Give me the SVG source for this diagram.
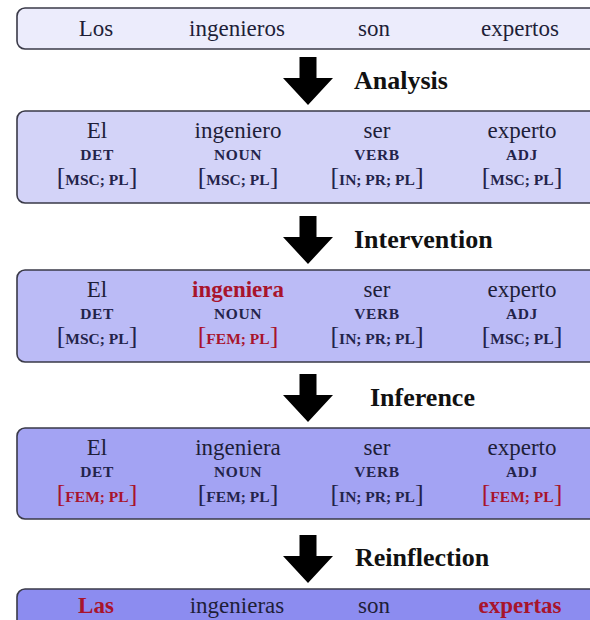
<svg xmlns="http://www.w3.org/2000/svg" width="590" height="620" viewBox="0 0 590 620">
<style>
.box{stroke:#3a3a48;stroke-width:1.6}
.w{font-family:"Liberation Serif","Times New Roman",serif;font-size:23px;fill:#1e1e38;text-anchor:middle}
.t{font-family:"Liberation Serif","Times New Roman",serif;font-size:15.5px;font-weight:bold;fill:#23234a;text-anchor:middle;letter-spacing:0.6px}
.f{font-family:"Liberation Serif","Times New Roman",serif;font-size:15.5px;font-weight:bold;fill:#23234a;text-anchor:middle}
.br{font-size:26px;font-weight:normal}
.red{fill:#a8142c}
.b{font-weight:bold}
.lbl{font-family:"Liberation Serif","Times New Roman",serif;font-size:26px;font-weight:bold;fill:#111}
.arr{fill:#000}
</style>
<defs>
<path id="arrow" d="M-8.5,0 H8.5 V21 H25 L0,48 L-25,21 H-8.5 Z"/>
</defs>
<g id="connectors">
<use href="#arrow" class="arr" x="308" y="57"/>
<use href="#arrow" class="arr" x="308" y="216"/>
<use href="#arrow" class="arr" x="308" y="374"/>
<use href="#arrow" class="arr" x="308" y="535"/>
<text class="lbl" x="354" y="89">Analysis</text>
<text class="lbl" x="354" y="248">Intervention</text>
<text class="lbl" x="370" y="406">Inference</text>
<text class="lbl" x="355" y="566">Reinflection</text>
</g>
<g id="input">
<rect class="box" x="17" y="8" width="600" height="41" rx="8" fill="#ececfc"/>
<text class="w" x="96" y="36">Los</text>
<text class="w" x="237" y="36">ingenieros</text>
<text class="w" x="374" y="36">son</text>
<text class="w" x="520" y="36">expertos</text>
</g>
<g id="analysis">
<rect class="box" x="17" y="111" width="600" height="92" rx="8" fill="#d3d3f8"/>
<text class="w" x="97" y="138">El</text>
<text class="w" x="238" y="138">ingeniero</text>
<text class="w" x="377" y="138">ser</text>
<text class="w" x="522" y="138">experto</text>
<text class="t" x="97" y="160">DET</text>
<text class="t" x="238" y="160">NOUN</text>
<text class="t" x="377" y="160">VERB</text>
<text class="t" x="522" y="160">ADJ</text>
<text class="f" x="97" y="185"><tspan class="br">[</tspan>MSC; PL<tspan class="br">]</tspan></text>
<text class="f" x="238" y="185"><tspan class="br">[</tspan>MSC; PL<tspan class="br">]</tspan></text>
<text class="f" x="377" y="185"><tspan class="br">[</tspan>IN; PR; PL<tspan class="br">]</tspan></text>
<text class="f" x="522" y="185"><tspan class="br">[</tspan>MSC; PL<tspan class="br">]</tspan></text>
</g>
<g id="intervention">
<rect class="box" x="17" y="270" width="600" height="92" rx="8" fill="#bbbbf6"/>
<text class="w" x="97" y="297">El</text>
<text class="w red b" x="238" y="297">ingeniera</text>
<text class="w" x="377" y="297">ser</text>
<text class="w" x="522" y="297">experto</text>
<text class="t" x="97" y="319">DET</text>
<text class="t" x="238" y="319">NOUN</text>
<text class="t" x="377" y="319">VERB</text>
<text class="t" x="522" y="319">ADJ</text>
<text class="f" x="97" y="344"><tspan class="br">[</tspan>MSC; PL<tspan class="br">]</tspan></text>
<text class="f red" x="238" y="344"><tspan class="br">[</tspan>FEM; PL<tspan class="br">]</tspan></text>
<text class="f" x="377" y="344"><tspan class="br">[</tspan>IN; PR; PL<tspan class="br">]</tspan></text>
<text class="f" x="522" y="344"><tspan class="br">[</tspan>MSC; PL<tspan class="br">]</tspan></text>
</g>
<g id="inference">
<rect class="box" x="17" y="428" width="600" height="91" rx="8" fill="#a3a3f3"/>
<text class="w" x="97" y="455">El</text>
<text class="w" x="238" y="455">ingeniera</text>
<text class="w" x="377" y="455">ser</text>
<text class="w" x="522" y="455">experto</text>
<text class="t" x="97" y="477">DET</text>
<text class="t" x="238" y="477">NOUN</text>
<text class="t" x="377" y="477">VERB</text>
<text class="t" x="522" y="477">ADJ</text>
<text class="f red" x="97" y="502"><tspan class="br">[</tspan>FEM; PL<tspan class="br">]</tspan></text>
<text class="f" x="238" y="502"><tspan class="br">[</tspan>FEM; PL<tspan class="br">]</tspan></text>
<text class="f" x="377" y="502"><tspan class="br">[</tspan>IN; PR; PL<tspan class="br">]</tspan></text>
<text class="f red" x="522" y="502"><tspan class="br">[</tspan>FEM; PL<tspan class="br">]</tspan></text>
</g>
<g id="output">
<rect class="box" x="17" y="589" width="600" height="60" rx="8" fill="#8c8cf0"/>
<text class="w red b" x="96" y="613">Las</text>
<text class="w" x="237" y="613">ingenieras</text>
<text class="w" x="374" y="613">son</text>
<text class="w red b" x="520" y="613">expertas</text>
</g>
</svg>
